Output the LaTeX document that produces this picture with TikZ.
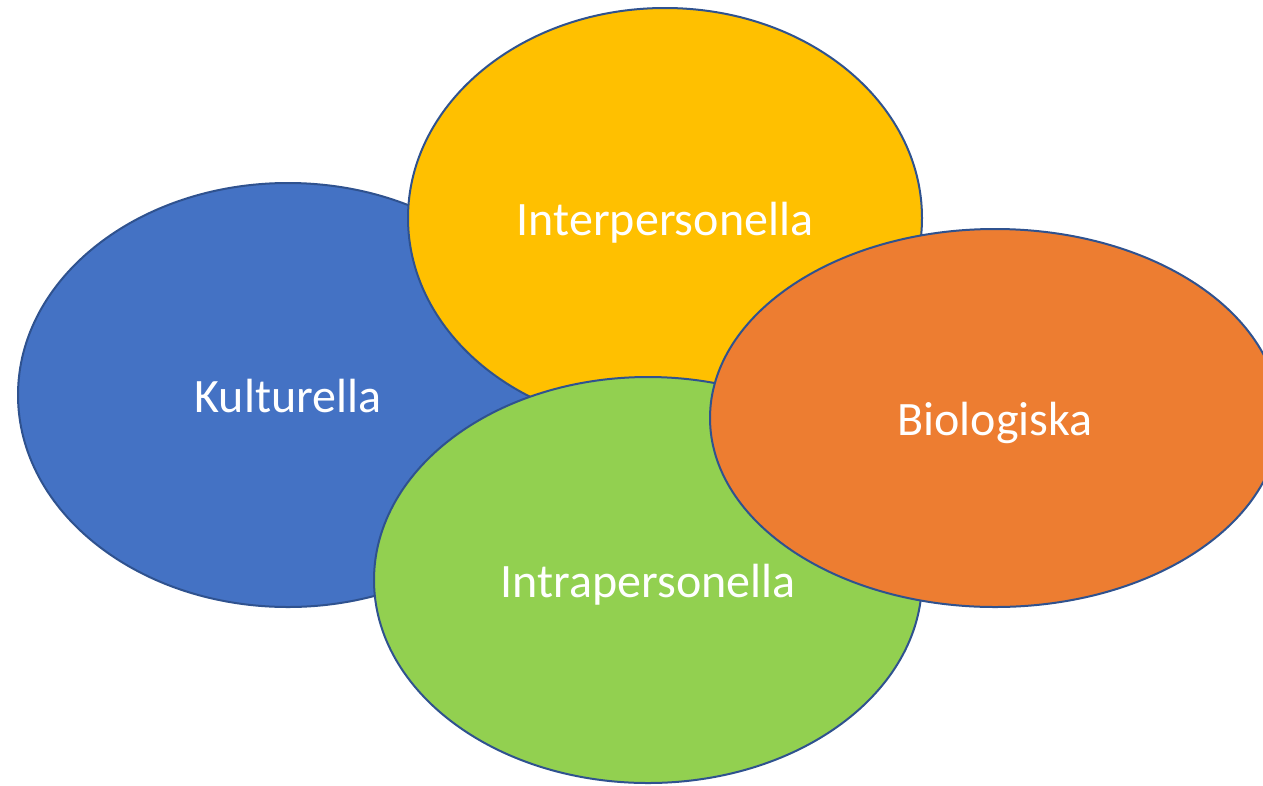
\documentclass[tikz,border=0pt]{standalone}
\usepackage{fontspec}
\setmainfont{Carlito}
\usetikzlibrary{shapes.geometric}
\definecolor{kblue}{HTML}{4472C4}
\definecolor{kyellow}{HTML}{FFC000}
\definecolor{kgreen}{HTML}{92D050}
\definecolor{korange}{HTML}{ED7D31}
\definecolor{kline}{HTML}{2F528F}
\tikzset{
  blob/.style={ellipse, draw=kline, line width=2pt, inner sep=0pt},
  lbl/.style={text=white, font=\fontsize{48}{52}\selectfont, anchor=base, inner sep=0pt}
}
\begin{document}
\begin{tikzpicture}[x=1pt,y=-1pt]
\clip (0,0) rectangle (1263,785);
\fill[white] (0,0) rectangle (1263,785);
\node[blob, fill=kblue, minimum width=540pt, minimum height=424pt] (kul) at (288,395) {};
\node[blob, fill=kyellow, minimum width=514pt, minimum height=420pt] (inter) at (665,218) {};
\node[blob, fill=kgreen, minimum width=548pt, minimum height=406pt] (intra) at (648,580) {};
\node[blob, fill=korange, minimum width=570pt, minimum height=378pt] (bio) at (995,418) {};
\node[lbl] (tkul) at ([yshift=-17pt]kul.center) {Kulturella};
\node[lbl] (tinter) at ([yshift=-17pt]inter.center) {Interpersonella};
\node[lbl] (tintra) at ([yshift=-17pt]intra.center) {Intrapersonella};
\node[lbl] (tbio) at ([yshift=-17pt]bio.center) {Biologiska};
\end{tikzpicture}
\end{document}
